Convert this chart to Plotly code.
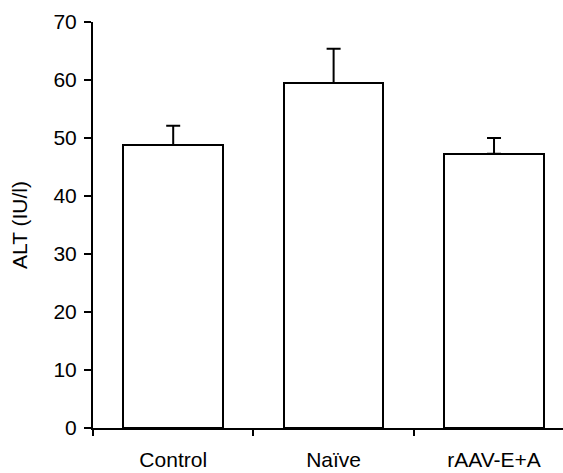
import plotly.graph_objects as go

# ALT levels per group
groups = ["Control", "Naïve", "rAAV-E+A"]
alt_mean = [48.8, 59.5, 47.3]
alt_err = [3.3, 5.9, 2.7]
y_ticks = [0, 10, 20, 30, 40, 50, 60, 70]

xpos = list(range(len(groups)))
boundaries = [p - 0.5 for p in xpos]

fig = go.Figure()
fig.add_trace(go.Bar(
    x=xpos,
    y=alt_mean,
    width=0.62,
    marker=dict(color="white", line=dict(color="black", width=2)),
    error_y=dict(type="data", array=alt_err, arrayminus=[0] * len(alt_err),
                 symmetric=False, color="black", thickness=2, width=7),
    showlegend=False,
))
# invisible trace to carry the boundary ticks on the overlay axis
fig.add_trace(go.Scatter(x=[xpos[0]], y=[0], xaxis="x2", mode="markers",
                         marker=dict(opacity=0), showlegend=False, hoverinfo="skip"))

font = dict(family="Liberation Sans, Arial, sans-serif", size=21, color="black")
xr = [-0.5, 2.43]

fig.update_layout(
    width=563, height=473,
    margin=dict(l=93, r=0, t=22, b=45),
    plot_bgcolor="white", paper_bgcolor="white",
    font=font,
    bargap=0,
    xaxis=dict(range=xr, tickvals=xpos, ticktext=groups, ticks="",
               showline=True, linecolor="black", linewidth=2,
               showgrid=False, zeroline=False, ticklabelstandoff=12,
               tickfont=font, automargin=False),
    xaxis2=dict(range=xr, overlaying="x", side="bottom", tickvals=boundaries,
                ticktext=["" for _ in boundaries], ticks="outside", ticklen=7,
                tickwidth=2, tickcolor="black", showline=False, showgrid=False,
                zeroline=False, automargin=False),
    yaxis=dict(range=[0, 70], tickvals=y_ticks, ticks="outside", ticklen=7,
               tickwidth=2, tickcolor="black", showline=True, linecolor="black",
               linewidth=2, showgrid=False, zeroline=False, tickfont=font,
               ticklabelstandoff=3, automargin=False,
               title=dict(text="ALT (IU/l)", font=font, standoff=20)),
)

# drop the browser's default page margin so the figure sits at the top-left corner
fig.write_html("out.html", config={"displayModeBar": False},
               post_script="document.body.style.margin='0';")
